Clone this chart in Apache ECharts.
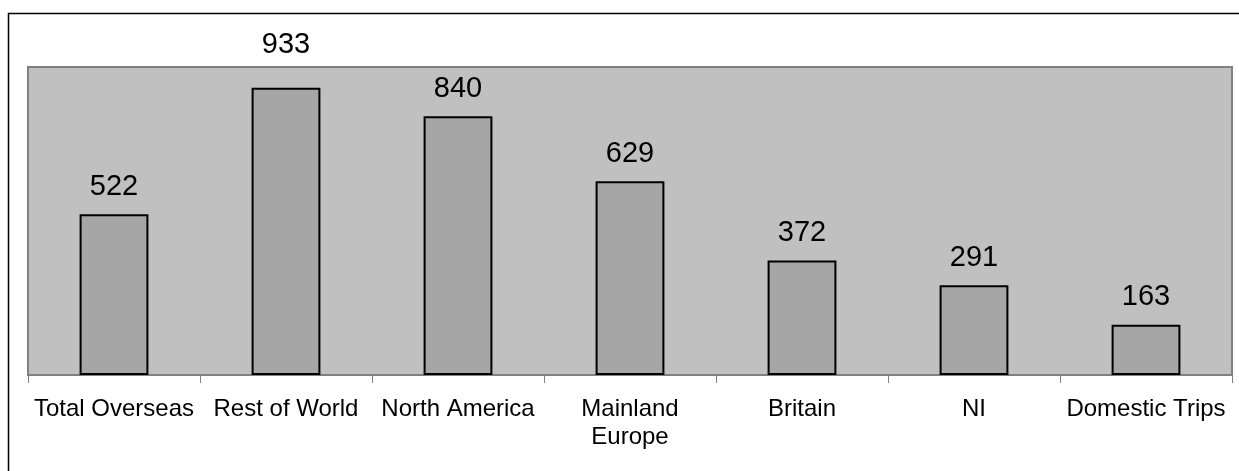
<!DOCTYPE html>
<html>
<head>
<meta charset="utf-8">
<script src="https://cdn.jsdelivr.net/npm/echarts@6/dist/echarts.min.js"></script>
<style>
  html, body { margin: 0; padding: 0; background: #fff; }
  #main { width: 1239px; height: 471px; }
</style>
</head>
<body>
<div id="main"></div>
<script>
var categories = ['Total Overseas', 'Rest of World', 'North America', 'Mainland\nEurope', 'Britain', 'NI', 'Domestic Trips'];
var values = [522, 933, 840, 629, 372, 291, 163];

var myChart = echarts.init(document.getElementById('main'));

// the tallest bar's label sits higher above its bar in the original
var barData = values.map(function (v, i) {
    if (i === 1) {
        return { value: v, label: { distance: 28 } };
    }
    return v;
});

var option = {
    animation: false,
    graphic: [
        {
            type: 'rect',
            shape: { x: 8.5, y: 13.5, width: 1300, height: 600 },
            style: { fill: 'none', stroke: '#000', lineWidth: 1.5 },
            z: -10
        }
    ],
    grid: {
        left: 28,
        right: 7,
        top: 67,
        bottom: 96,
        show: true,
        backgroundColor: '#C0C0C0',
        borderColor: '#808080',
        borderWidth: 2
    },
    xAxis: {
        type: 'category',
        data: categories,
        axisLine: { lineStyle: { color: '#808080', width: 2 } },
        axisTick: { show: true, length: 8, lineStyle: { color: '#808080' } },
        axisLabel: {
            color: '#000',
            fontFamily: 'Liberation Sans, Arial, sans-serif',
            fontSize: 24,
            lineHeight: 28,
            margin: 20,
            interval: 0
        }
    },
    yAxis: {
        type: 'value',
        min: 0,
        max: 1000,
        show: false,
        splitLine: { show: false }
    },
    series: [
        {
            type: 'bar',
            data: barData,
            barWidth: '40%',
            itemStyle: {
                color: '#A6A6A6',
                borderColor: '#000',
                borderWidth: 2
            },
            label: {
                show: true,
                position: 'top',
                distance: 13,
                color: '#000',
                fontFamily: 'Liberation Sans, Arial, sans-serif',
                fontSize: 29
            }
        }
    ]
};

myChart.setOption(option);
</script>
</body>
</html>
